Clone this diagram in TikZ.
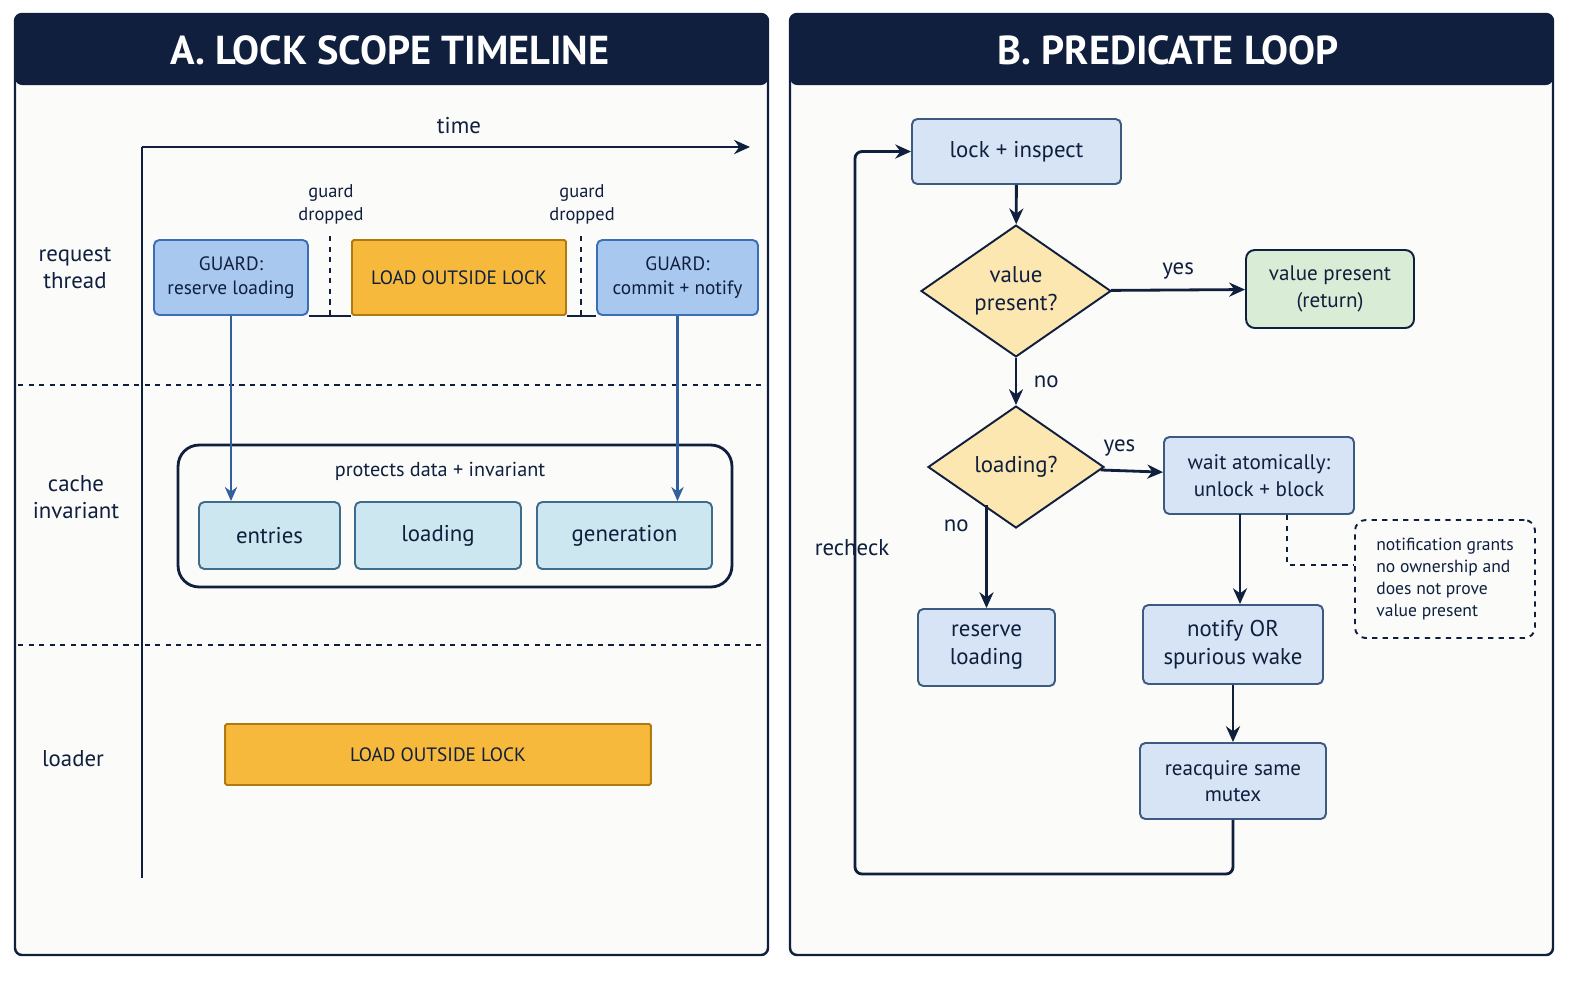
\documentclass[tikz,border=0pt]{standalone}
\usepackage{fontspec}
\setmainfont{PT Sans}
\usetikzlibrary{shapes.geometric,arrows.meta,positioning}
\definecolor{navy}{HTML}{0F1F3D}
\definecolor{guardfill}{HTML}{A9C8EF}
\definecolor{guardline}{HTML}{3B6FB5}
\definecolor{loadfill}{HTML}{F6B93B}
\definecolor{loadline}{HTML}{B07A10}
\definecolor{datafill}{HTML}{CDE7F0}
\definecolor{dataline}{HTML}{3E6C8A}
\definecolor{stepfill}{HTML}{D6E4F5}
\definecolor{stepline}{HTML}{3D5A80}
\definecolor{askfill}{HTML}{FDE7B0}
\definecolor{okfill}{HTML}{D9ECD5}
\definecolor{paper}{HTML}{FBFBFA}

\begin{document}
\begin{tikzpicture}[x=0.02cm,y=-0.02cm,
    panel/.style={draw=navy, line width=1.4pt, fill=paper, rounded corners=4pt},
    head/.style={fill=navy, rounded corners=4pt},
    title/.style={text=white, font=\fontsize{23}{26}\selectfont\bfseries},
    lbl/.style={font=\fontsize{13}{15}\selectfont, align=center, text=navy},
    small/.style={font=\fontsize{10.5}{13}\selectfont, align=center, text=navy},
    box/.style={draw, rectangle, rounded corners=3pt, line width=1.1pt, align=center, inner sep=0pt, text=navy},
    guard/.style={box, fill=guardfill, draw=guardline, font=\fontsize{11}{14}\selectfont},
    load/.style={box, fill=loadfill, draw=loadline, rounded corners=1pt, font=\fontsize{11}{14}\selectfont},
    data/.style={box, fill=datafill, draw=dataline, font=\fontsize{13}{15}\selectfont},
    stage/.style={box, fill=stepfill, draw=stepline, font=\fontsize{13}{16}\selectfont},
    ask/.style={draw=navy, diamond, fill=askfill, line width=1.1pt, inner sep=0pt, align=center, text=navy, font=\fontsize{13}{16}\selectfont},
    flow/.style={-{Stealth[length=9pt,width=8pt]}, line width=1.6pt, navy},
    link/.style={-{Stealth[length=8pt,width=7pt]}, line width=1.3pt, guardline!80!navy}]
    \useasboundingbox (0,0) rectangle (1586,992);

    % Panels
    \draw[panel] (15,14) rectangle (768,955);
    \fill[head] (15,14) rectangle (768,85);
    \node[title] (titleA) at (390,50) {A. LOCK SCOPE TIMELINE};
    \draw[panel] (790,14) rectangle (1553,955);
    \fill[head] (790,14) rectangle (1553,85);
    \node[title] (titleB) at (1168,50) {B. PREDICATE LOOP};

    % Timeline axes and lanes
    \coordinate (origin) at (142,147);
    \coordinate (timeend) at (750,147);
    \coordinate (axisend) at (142,878);
    \draw[line width=1.4pt, navy] (axisend) -- (origin);
    \draw[flow] (origin) -- (timeend);
    \node[lbl] (time) at (459,126) {time};
    \draw[dashed, line width=1.1pt, navy] (18,385) -- (765,385);
    \draw[dashed, line width=1.1pt, navy] (18,645) -- (765,645);
    \node[lbl] (lane-1) at (75,268) {request\\thread};
    \node[lbl] (lane-2) at (76,497) {cache\\invariant};
    \node[lbl] (lane-3) at (73,759) {loader};

    % Request thread
    \node[guard, minimum width=3.08cm, minimum height=1.5cm] (guardA) at (231,277.5) {GUARD:\\reserve loading};
    \node[load, minimum width=4.28cm, minimum height=1.5cm] (loadA) at (459,277.5) {LOAD OUTSIDE LOCK};
    \node[guard, minimum width=3.22cm, minimum height=1.5cm] (guardB) at (677.5,277.5) {GUARD:\\commit + notify};
    \draw[line width=1pt, navy] (guardA.south east) -- (loadA.south west);
    \draw[line width=1pt, navy] (loadA.south east) -- (guardB.south west);
    \draw[dashed, line width=1pt, navy] (330,236) -- (330,318);
    \draw[dashed, line width=1pt, navy] (581,236) -- (581,318);
    \node[small] (drop-1) at (331,204) {guard\\dropped};
    \node[small] (drop-2) at (582,204) {guard\\dropped};

    % Cache invariant
    \node[box, draw=navy, fill=paper, line width=1.6pt, rounded corners=12pt, minimum width=11.08cm, minimum height=2.84cm] (cache) at (455,516) {};
    \node[small, font=\fontsize{11.5}{14}\selectfont] (protects) at (440,471) {protects data + invariant};
    \node[data, minimum width=2.82cm, minimum height=1.34cm] (entries) at (269.5,535.5) {entries};
    \node[data, minimum width=3.32cm, minimum height=1.34cm] (loading) at (438,535.5) {loading};
    \node[data, minimum width=3.5cm, minimum height=1.34cm] (generation) at (624.5,535.5) {generation};
    \draw[link] (guardA.south) -- (guardA.south |- entries.north);
    \draw[link] (guardB.south) -- (guardB.south |- generation.north);

    % Loader
    \node[load, minimum width=8.52cm, minimum height=1.22cm] (loader) at (438,754.5) {LOAD OUTSIDE LOCK};

    % Predicate loop
    \node[stage, minimum width=4.18cm, minimum height=1.3cm] (lock) at (1016.5,151.5) {lock + inspect};
    \node[ask, minimum width=3.8cm, minimum height=2.56cm] (present) at (1016,291) {value\\present?};
    \node[box, fill=okfill, draw=navy, font=\fontsize{12}{15}\selectfont, minimum width=3.36cm, minimum height=1.56cm, rounded corners=5pt] (done) at (1330,289) {value present\\(return)};
    \node[ask, minimum width=3.52cm, minimum height=2.44cm] (isloading) at (1016,467) {loading?};
    \node[stage, font=\fontsize{12}{15}\selectfont, minimum width=3.8cm, minimum height=1.54cm] (wait) at (1259,475.5) {wait atomically:\\unlock + block};
    \node[stage, minimum width=2.74cm, minimum height=1.54cm] (reserve) at (986.5,647.5) {reserve\\loading};
    \node[stage, minimum width=3.6cm, minimum height=1.58cm] (notify) at (1233,644.5) {notify OR\\spurious wake};
    \node[stage, font=\fontsize{12}{15}\selectfont, minimum width=3.72cm, minimum height=1.52cm] (reacquire) at (1233,781) {reacquire same\\mutex};
    \node[box, dashed, draw=navy, fill=paper, font=\fontsize{10}{12.5}\selectfont, align=left, minimum width=3.6cm, minimum height=2.36cm, rounded corners=6pt] (note) at (1445,579) {notification grants\\no ownership and\\does not prove\\value present};

    \coordinate (noexit) at (986.5,505);
    \coordinate (waitout) at (1240,514);
    \coordinate (notebend) at (1287,565);
    \coordinate (loopcorner) at (855,874);
    \draw[flow] (lock) -- (present);
    \draw[flow] (present) -- node[lbl, above=2pt] {yes} (done);
    \draw[flow] (present) -- node[lbl, right=6pt] {no} (isloading);
    \draw[flow] (isloading) -- node[lbl, above=4pt, pos=0.3] {yes} (wait);
    \draw[flow] (noexit) -- node[lbl, left=6pt, pos=0.2] {no} (reserve);
    \draw[flow] (waitout) -- (waitout |- notify.north);
    \draw[flow] (notify) -- (reacquire);
    \draw[dashed, line width=1pt, navy] (wait.south -| notebend) -- (notebend) -- (note.west |- notebend);
    \draw[flow, rounded corners=4pt] (reacquire.south) |- (loopcorner) |- (lock.west);
    \node[lbl] (recheck) at (852,548) {recheck};
\end{tikzpicture}
\end{document}
